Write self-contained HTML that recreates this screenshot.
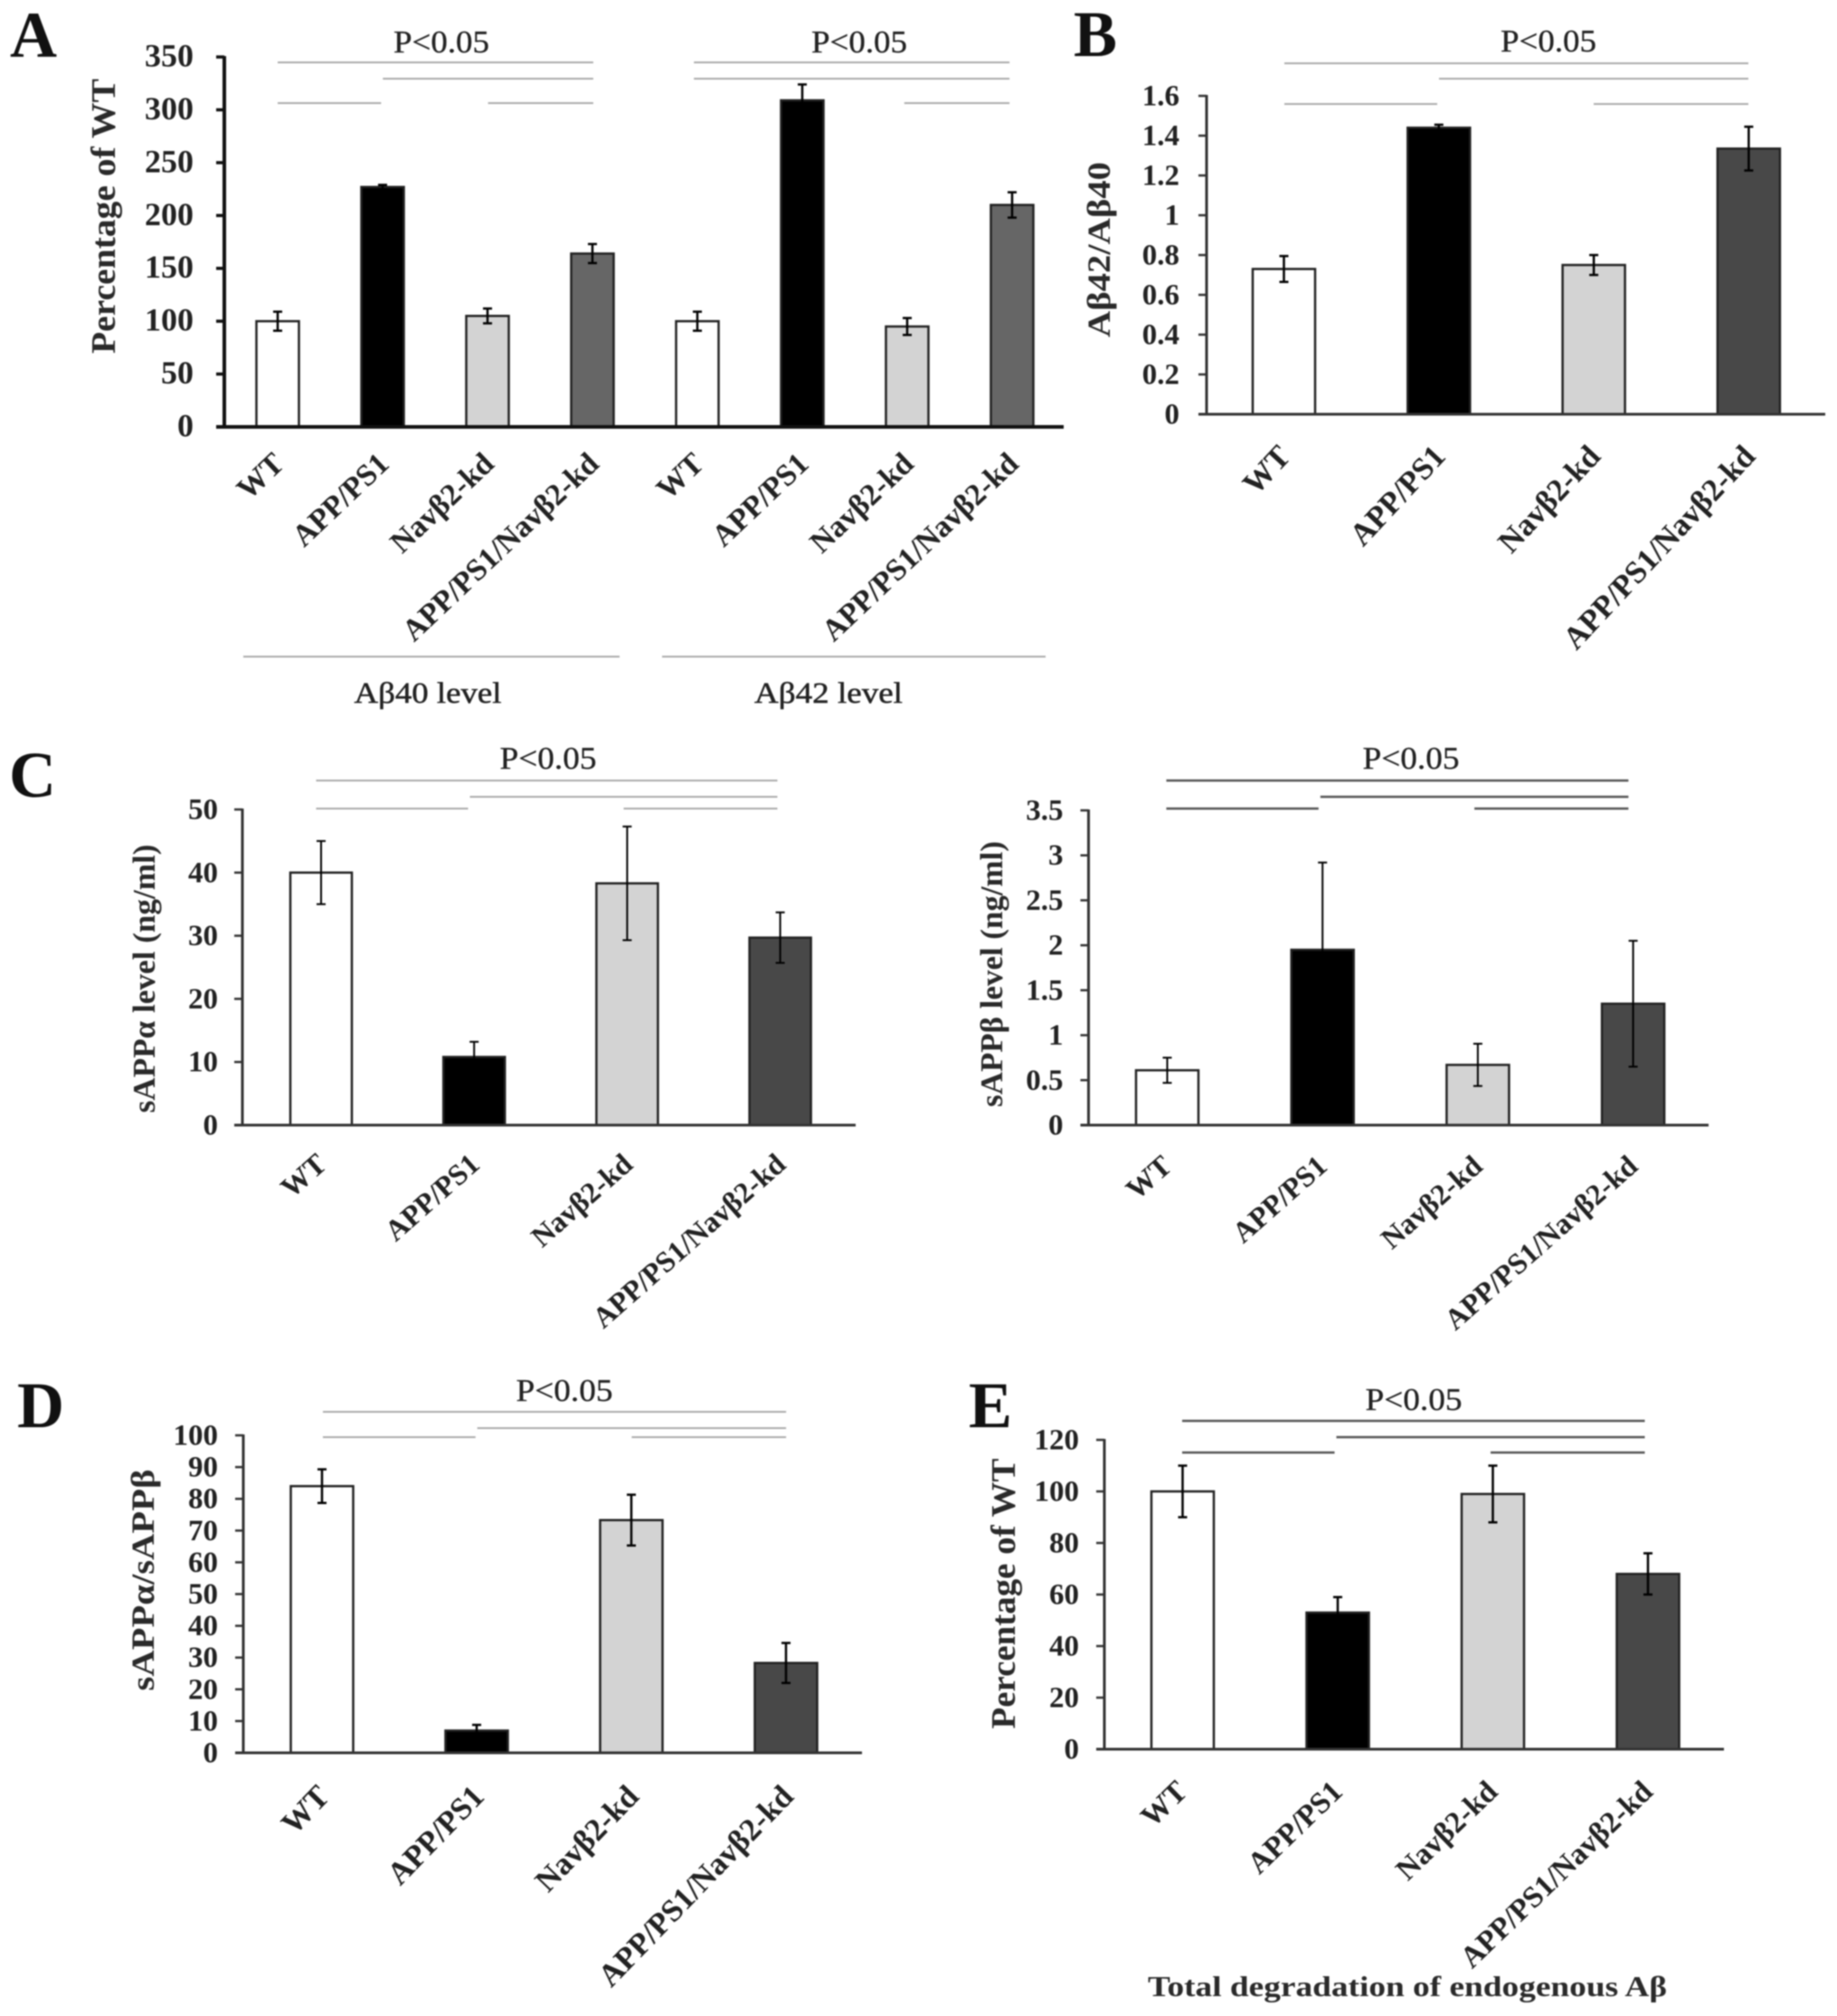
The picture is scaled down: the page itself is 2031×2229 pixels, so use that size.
<!DOCTYPE html>
<html lang="en">
<head>
<meta charset="utf-8">
<title>Aβ and sAPP levels bar charts</title>
<style>
  html, body { margin: 0; padding: 0; background: #fff; }
  body { width: 2031px; height: 2229px; overflow: hidden; }
  #figure { display: block; filter: blur(0.7px); }
  text { font-family: "Liberation Serif", "DejaVu Serif", serif; fill: #222; }
  .letter { font-size: 72px; font-weight: bold; fill: #111; }
  .pval { font-size: 35px; text-anchor: middle; stroke: #222; stroke-width: 0.35px; }
  .title { font-weight: bold; text-anchor: middle; fill: #2a2a2a; }
  .group-caption { font-size: 33px; text-anchor: middle; fill: #222; stroke: #222; stroke-width: 0.5px; }
  .caption { font-size: 32px; font-weight: bold; text-anchor: middle; fill: #2a2a2a; }
  .tick { font-size: 33px; font-weight: bold; text-anchor: end; }
  .cat { font-weight: bold; text-anchor: end; }
</style>
</head>
<body>
<svg id="figure" xmlns="http://www.w3.org/2000/svg" width="2031" height="2229" viewBox="0 0 2031 2229">
  <rect x="0" y="0" width="2031" height="2229" fill="#fff"/>

  <text class="letter" x="11" y="63">A</text>
  <text class="letter" x="1187" y="62">B</text>
  <text class="letter" x="10" y="881">C</text>
  <text class="letter" x="19" y="1578">D</text>
  <text class="letter" x="1071" y="1578">E</text>

  <text class="pval" x="488" y="58" textLength="106" lengthAdjust="spacingAndGlyphs">P&lt;0.05</text>
  <text class="pval" x="950" y="58" textLength="106" lengthAdjust="spacingAndGlyphs">P&lt;0.05</text>
  <text class="pval" x="1712" y="57" textLength="106" lengthAdjust="spacingAndGlyphs">P&lt;0.05</text>
  <text class="pval" x="606" y="850" textLength="107" lengthAdjust="spacingAndGlyphs">P&lt;0.05</text>
  <text class="pval" x="1560" y="850" textLength="107" lengthAdjust="spacingAndGlyphs">P&lt;0.05</text>
  <text class="pval" x="624" y="1549" textLength="107" lengthAdjust="spacingAndGlyphs">P&lt;0.05</text>
  <text class="pval" x="1563" y="1559" textLength="107" lengthAdjust="spacingAndGlyphs">P&lt;0.05</text>

  <text class="title" transform="translate(127 239) rotate(-90)" style="font-size:38px" textLength="304" lengthAdjust="spacingAndGlyphs">Percentage of WT</text>
  <text class="title" transform="translate(1227 276) rotate(-90)" style="font-size:36px" textLength="194" lengthAdjust="spacingAndGlyphs">Aβ42/Aβ40</text>
  <text class="title" transform="translate(171 1082) rotate(-90)" style="font-size:35px" textLength="297" lengthAdjust="spacingAndGlyphs">sAPPα level (ng/ml)</text>
  <text class="title" transform="translate(1108 1077) rotate(-90)" style="font-size:35px" textLength="294" lengthAdjust="spacingAndGlyphs">sAPPβ level (ng/ml)</text>
  <text class="title" transform="translate(170 1747) rotate(-90)" style="font-size:36px" textLength="245" lengthAdjust="spacingAndGlyphs">sAPPα/sAPPβ</text>
  <text class="title" transform="translate(1122 1762) rotate(-90)" style="font-size:38px" textLength="299" lengthAdjust="spacingAndGlyphs">Percentage of WT</text>

  <line x1="269" y1="726" x2="685" y2="726" stroke="#aaa" stroke-width="2"/>
  <line x1="732" y1="726" x2="1156" y2="726" stroke="#aaa" stroke-width="2"/>
  <text class="group-caption" x="473" y="777" textLength="163" lengthAdjust="spacingAndGlyphs">Aβ40 level</text>
  <text class="group-caption" x="916" y="777" textLength="164" lengthAdjust="spacingAndGlyphs">Aβ42 level</text>
  <text class="caption" x="1556" y="2207" textLength="574" lengthAdjust="spacingAndGlyphs">Total degradation of endogenous Aβ</text>

  <g id="panel-a"></g>
  <g id="panel-b"></g>
  <g id="panel-c-alpha"></g>
  <g id="panel-c-beta"></g>
  <g id="panel-d"></g>
  <g id="panel-e"></g>
</svg>

<script>
// ---------- chart data ----------
const groupCategories = ['WT', 'APP/PS1', 'Navβ2-kd', 'APP/PS1/Navβ2-kd'];

const panelACategories = ['WT', 'APP/PS1', 'Navβ2-kd', 'APP/PS1/Navβ2-kd', 'WT', 'APP/PS1', 'Navβ2-kd', 'APP/PS1/Navβ2-kd'];
const panelAValues = [100, 227, 105, 164, 100, 309, 95, 210];
const panelAErrors = [9, 2, 7, 9, 9, 15, 8, 12];
const panelATicks = ['0', '50', '100', '150', '200', '250', '300', '350'];

const panelBValues = [0.73, 1.44, 0.75, 1.335];
const panelBErrors = [0.065, 0.015, 0.05, 0.11];
const panelBTicks = ['0', '0.2', '0.4', '0.6', '0.8', '1', '1.2', '1.4', '1.6'];

const panelCAlphaValues = [40, 10.8, 38.3, 29.7];
const panelCAlphaErrors = [5, 2.4, 9, 4];
const panelCAlphaTicks = ['0', '10', '20', '30', '40', '50'];

const panelCBetaValues = [0.61, 1.95, 0.67, 1.35];
const panelCBetaErrors = [0.14, 0.97, 0.235, 0.7];
const panelCBetaTicks = ['0', '0.5', '1', '1.5', '2', '2.5', '3', '3.5'];

const panelDValues = [84, 7, 73.3, 28.3];
const panelDErrors = [5.3, 1.8, 8, 6.3];
const panelDTicks = ['0', '10', '20', '30', '40', '50', '60', '70', '80', '90', '100'];

const panelEValues = [100, 53, 99, 68];
const panelEErrors = [10, 6, 11, 8];
const panelETicks = ['0', '20', '40', '60', '80', '100', '120'];

// Significance comparisons: [from category index, to category index, bracket row]
const panelAComparisons = [[0, 3, 0], [1, 3, 1], [0, 1, 2], [2, 3, 2], [4, 7, 0], [4, 7, 1], [6, 7, 2]];
const standardComparisons = [[0, 3, 0], [1, 3, 1], [0, 1, 2], [2, 3, 2]];

// ---------- drawing ----------
const NS = 'http://www.w3.org/2000/svg';
const fillCycle = ['#ffffff', '#000000', '#d3d3d3'];

function svgEl(parent, tag, attrs) {
  const el = document.createElementNS(NS, tag);
  for (const key in attrs) el.setAttribute(key, attrs[key]);
  parent.appendChild(el);
  return el;
}

function drawPanel(id, cfg) {
  const root = document.getElementById(id);
  const maxVal = parseFloat(cfg.ticks[cfg.ticks.length - 1]);
  const yScale = v => cfg.baseY - (v / maxVal) * (cfg.baseY - cfg.topY);
  const xScale = i => cfg.firstX + i * cfg.stepX;
  const sigX = i => cfg.sigFirstX + i * cfg.sigStepX + (i >= 4 ? cfg.sigGroupShift : 0);

  // significance brackets
  cfg.comparisons.forEach(c => {
    const sig = svgEl(root, 'line', {
      x1: sigX(c[0]), x2: sigX(c[1]) - (c[2] === 2 && c[0] === 0 ? 2 : 0),
      y1: cfg.sigRows[c[2]], y2: cfg.sigRows[c[2]],
      stroke: cfg.sigColor, 'stroke-width': cfg.sigWidth
    });
    
    
  });

  // bars
  cfg.values.forEach((v, i) => {
    const fill = i % 4 === 3 ? cfg.darkFill : fillCycle[i % 4];
    const bar = svgEl(root, 'rect', {
      x: xScale(i) - cfg.barW / 2, y: yScale(v),
      width: cfg.barW, height: cfg.baseY - yScale(v),
      fill: fill, stroke: '#222', 'stroke-width': 2.5
    });
    
    
  });

  // error bars
  cfg.values.forEach((v, i) => {
    const e = cfg.errors[i];
    const x = xScale(i);
    const stem = svgEl(root, 'line', {
      x1: x, x2: x, y1: yScale(v + e), y2: yScale(v - e),
      stroke: '#000', 'stroke-width': cfg.errW
    });
    
    
    [v + e, v - e].forEach(val => {
      const cap = svgEl(root, 'line', {
        x1: x - 5, x2: x + 5, y1: yScale(val), y2: yScale(val),
        stroke: '#000', 'stroke-width': cfg.errW
      });
      
      
    });
  });

  // axes
  const yAxis = svgEl(root, 'line', {
    x1: cfg.axisX, x2: cfg.axisX, y1: cfg.topY - 1, y2: cfg.baseY + 1,
    stroke: cfg.axisColor, 'stroke-width': cfg.axisW
  });
  
  

  const xAxis = svgEl(root, 'line', {
    x1: cfg.axisX - 9, x2: cfg.axisEnd, y1: cfg.baseY, y2: cfg.baseY,
    stroke: cfg.axisColor, 'stroke-width': cfg.axisW
  });
  
  

  // y ticks
  cfg.ticks.forEach(label => {
    const y = yScale(parseFloat(label));
    const tick = svgEl(root, 'line', {
      x1: cfg.axisX - 9, x2: cfg.axisX, y1: y, y2: y,
      stroke: cfg.axisColor, 'stroke-width': cfg.axisW - 0.5
    });
    
    
    const txt = svgEl(root, 'text', {
      x: cfg.axisX - cfg.tickGap, y: y + 10.5, class: 'tick'
    });
    
    
    if (cfg.tickSize) txt.style.fontSize = cfg.tickSize + 'px';
    txt.textContent = label;
  });

  // rotated category labels
  cfg.categories.forEach((label, i) => {
    const px = xScale(i) + cfg.catDx;
    const cat = svgEl(root, 'text', {
      x: px, y: cfg.catY, class: 'cat',
      transform: 'rotate(' + cfg.catAngle + ' ' + px + ' ' + cfg.catY + ')'
    });
    
    
    cat.style.fontSize = cfg.catSize + 'px';
    cat.textContent = label;
  });
}

drawPanel('panel-a', {
  categories: panelACategories, values: panelAValues, errors: panelAErrors, ticks: panelATicks,
  comparisons: panelAComparisons, sigRows: [69, 87, 114], sigColor: '#aaa', sigWidth: 2,
  sigFirstX: 307, sigStepX: 116.3, sigGroupShift: -5,
  axisX: 248, axisEnd: 1176, baseY: 472, topY: 63, firstX: 307, stepX: 116, barW: 47,
  darkFill: '#666666', axisColor: '#111', axisW: 4, errW: 2.5, tickGap: 34, tickSize: 36,
  catDx: 9, catY: 515, catAngle: -43.5, catSize: 34
});

drawPanel('panel-b', {
  categories: groupCategories, values: panelBValues, errors: panelBErrors, ticks: panelBTicks,
  comparisons: standardComparisons, sigRows: [70, 87, 115], sigColor: '#aaa', sigWidth: 2,
  sigFirstX: 1420, sigStepX: 171, sigGroupShift: 0,
  axisX: 1334, axisEnd: 2018, baseY: 458, topY: 106, firstX: 1419.5, stepX: 171.3, barW: 69,
  darkFill: '#484848', axisColor: '#333', axisW: 3, errW: 2.5, tickGap: 30,
  catDx: 9, catY: 506, catAngle: -47, catSize: 35
});

drawPanel('panel-c-alpha', {
  categories: groupCategories, values: panelCAlphaValues, errors: panelCAlphaErrors, ticks: panelCAlphaTicks,
  comparisons: standardComparisons, sigRows: [863, 881, 894], sigColor: '#aaa', sigWidth: 2,
  sigFirstX: 349.5, sigStepX: 170, sigGroupShift: 0,
  axisX: 268, axisEnd: 946, baseY: 1244, topY: 895, firstX: 355, stepX: 169.2, barW: 68,
  darkFill: '#484848', axisColor: '#333', axisW: 3, errW: 2, tickGap: 27,
  catDx: 8, catY: 1290, catAngle: -41.5, catSize: 32.5
});

drawPanel('panel-c-beta', {
  categories: groupCategories, values: panelCBetaValues, errors: panelCBetaErrors, ticks: panelCBetaTicks,
  comparisons: standardComparisons, sigRows: [863, 881, 894], sigColor: '#555', sigWidth: 2.5,
  sigFirstX: 1289.5, sigStepX: 170.3, sigGroupShift: 0,
  axisX: 1203.5, axisEnd: 1889, baseY: 1244, topY: 896, firstX: 1290.5, stepX: 171.7, barW: 69,
  darkFill: '#484848', axisColor: '#333', axisW: 3, errW: 2, tickGap: 28,
  catDx: 7, catY: 1292, catAngle: -41.5, catSize: 32.5
});

drawPanel('panel-d', {
  categories: groupCategories, values: panelDValues, errors: panelDErrors, ticks: panelDTicks,
  comparisons: standardComparisons, sigRows: [1561, 1579, 1589], sigColor: '#aaa', sigWidth: 2,
  sigFirstX: 357, sigStepX: 170.7, sigGroupShift: 0,
  axisX: 269, axisEnd: 953, baseY: 1938, topY: 1587, firstX: 356, stepX: 171, barW: 69,
  darkFill: '#484848', axisColor: '#333', axisW: 3, errW: 2.5, tickGap: 28,
  catDx: 10, catY: 1988, catAngle: -46, catSize: 35
});

drawPanel('panel-e', {
  categories: groupCategories, values: panelEValues, errors: panelEErrors, ticks: panelETicks,
  comparisons: standardComparisons, sigRows: [1571, 1589, 1606], sigColor: '#555', sigWidth: 2.5,
  sigFirstX: 1307, sigStepX: 170.5, sigGroupShift: 0,
  axisX: 1221, axisEnd: 1906, baseY: 1934, topY: 1592, firstX: 1307.5, stepX: 171.5, barW: 69,
  darkFill: '#484848', axisColor: '#333', axisW: 3, errW: 2.5, tickGap: 28,
  catDx: 7, catY: 1983, catAngle: -44, catSize: 33.5
});
</script>
</body>
</html>
